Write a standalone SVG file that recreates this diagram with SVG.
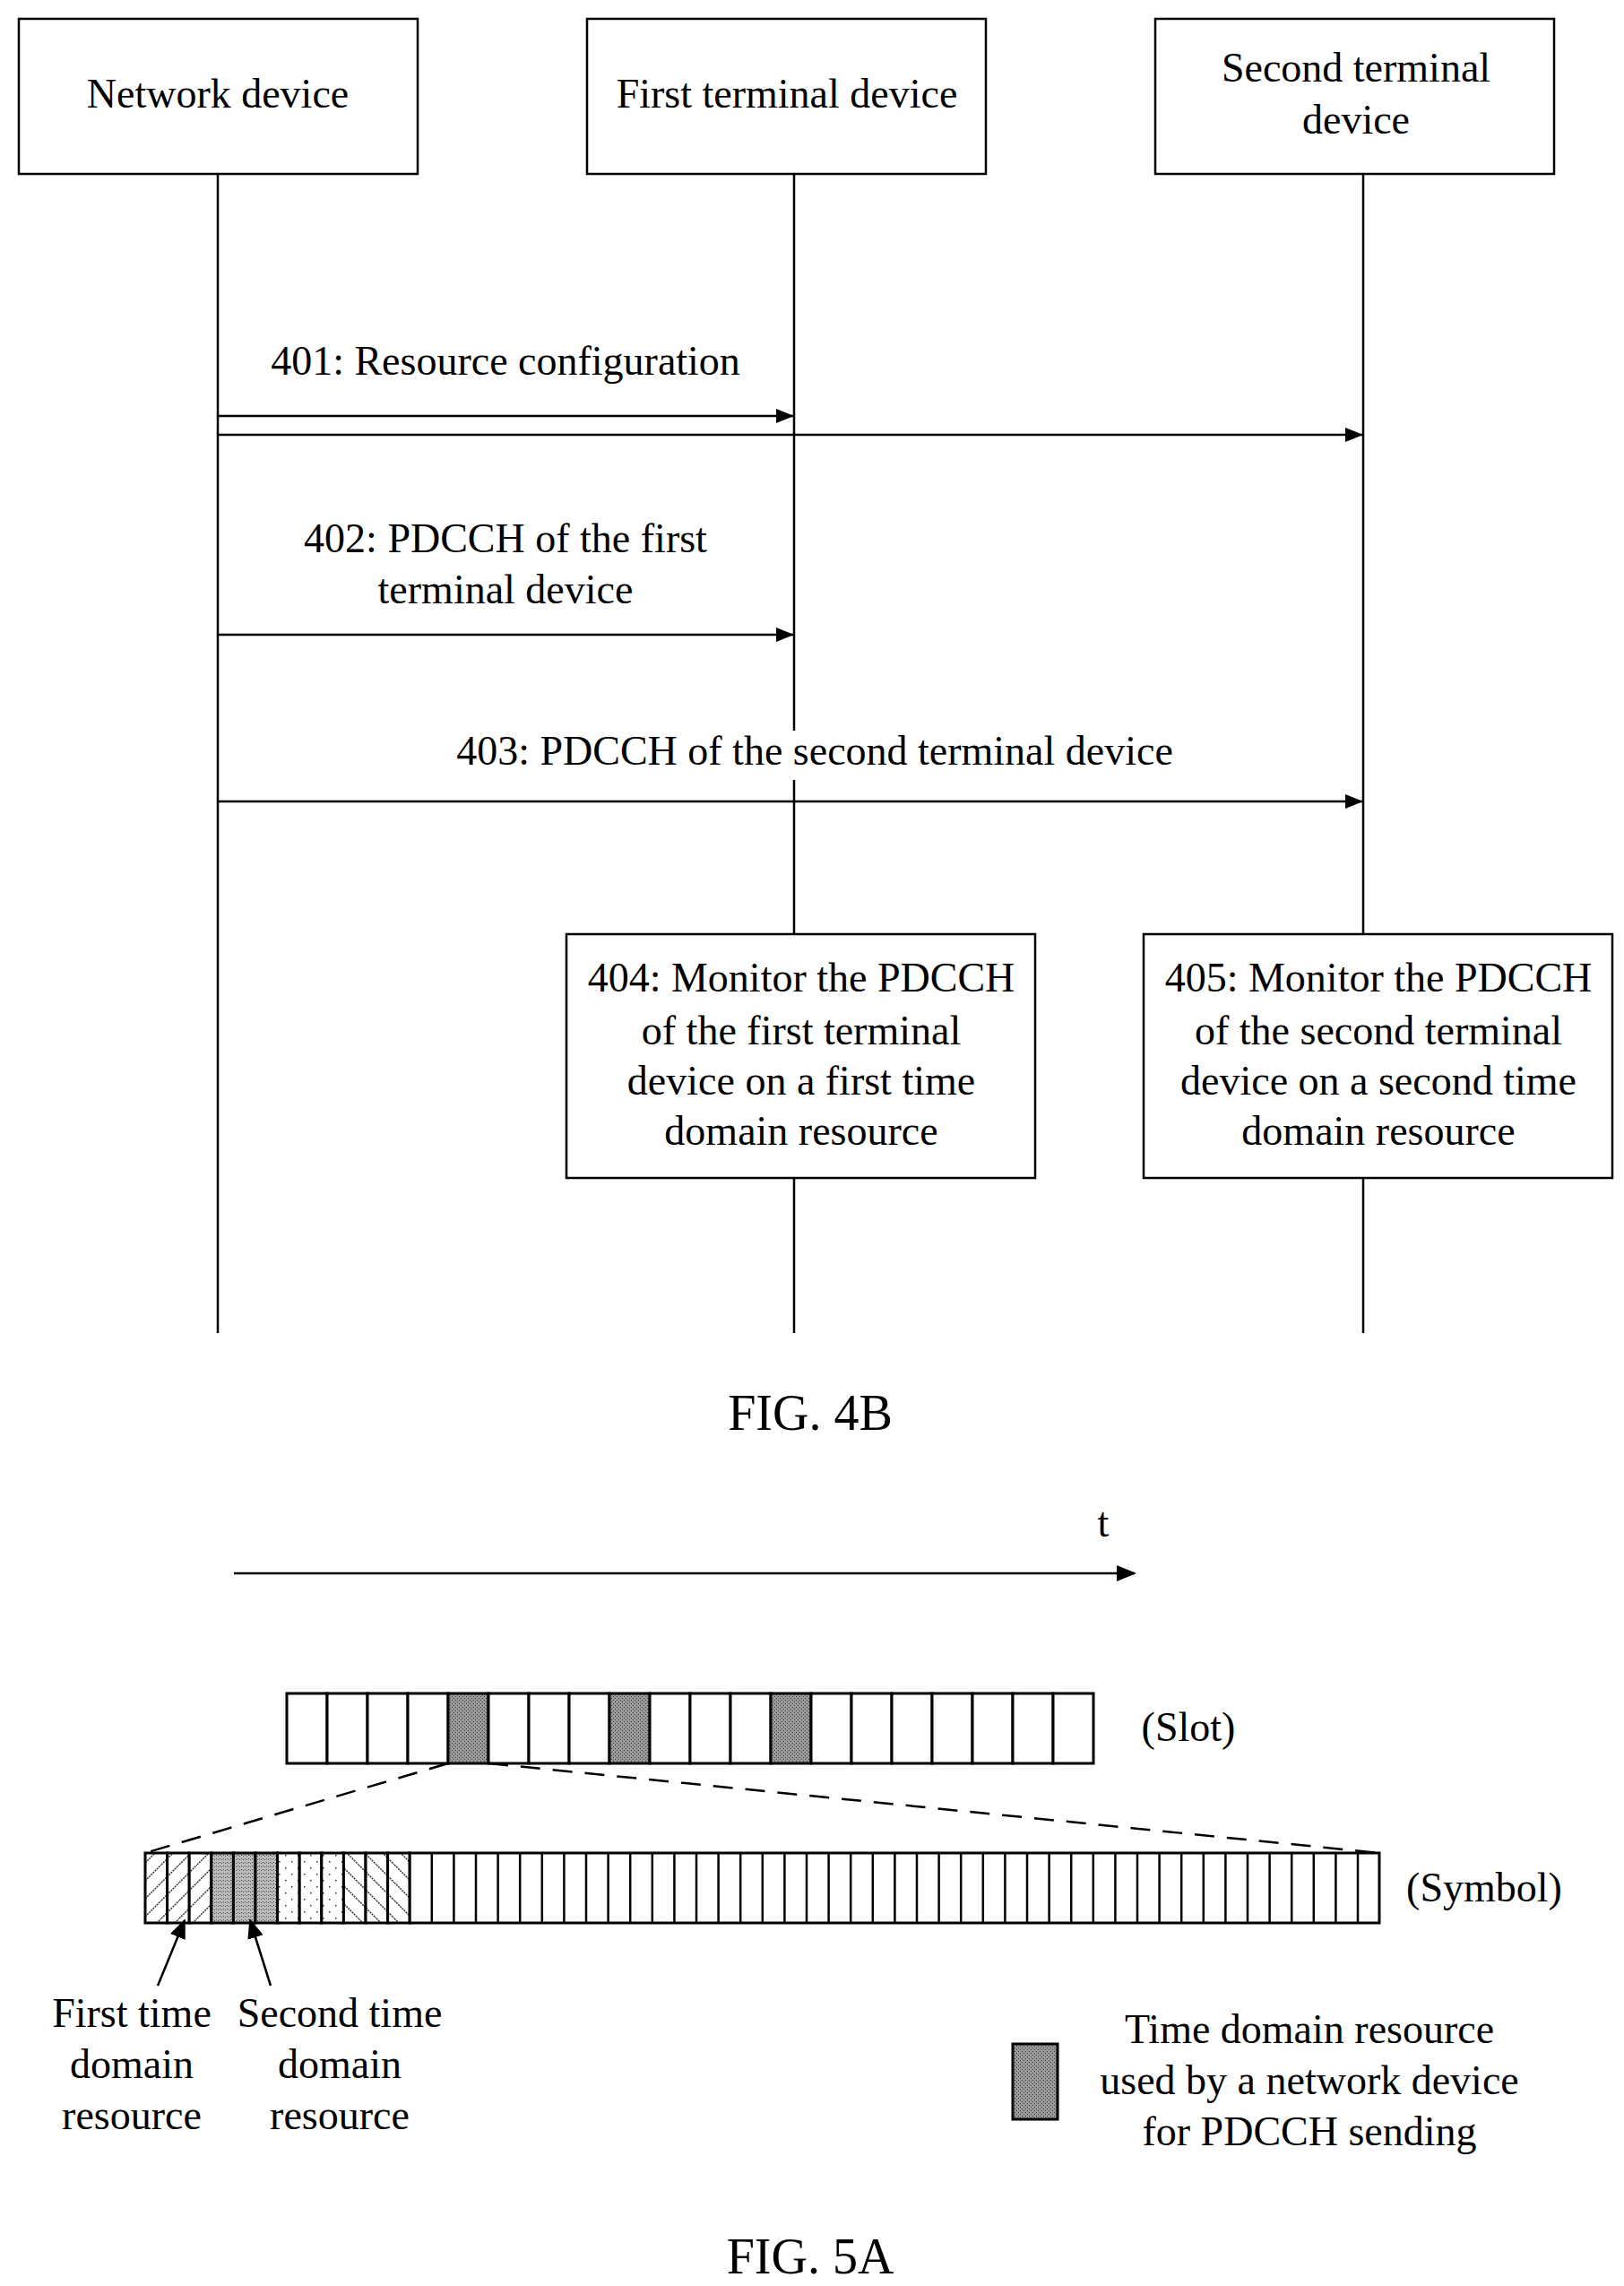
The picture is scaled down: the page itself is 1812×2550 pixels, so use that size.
<svg xmlns="http://www.w3.org/2000/svg" width="1812" height="2550" viewBox="0 0 1812 2550">
<style>
text{font-family:"Liberation Serif","Times New Roman",serif;font-size:46px;fill:#000;text-anchor:middle;dominant-baseline:middle}
.fig{font-size:56px}
.box{fill:#fff;stroke:#000;stroke-width:2.5}
.ln{stroke:#000;stroke-width:2.5;fill:none}
.cell{fill:#fff;stroke:#000;stroke-width:3}
</style>
<defs>
<marker id="ah" markerWidth="20" markerHeight="20" refX="20" refY="10" orient="auto" markerUnits="userSpaceOnUse" viewBox="0 0 20 20"><path d="M0,2L20,10L0,18z" fill="#000"/></marker>
<marker id="ah2" markerWidth="22" markerHeight="22" refX="20" refY="11" orient="auto" markerUnits="userSpaceOnUse" viewBox="0 0 22 22"><path d="M0,2L22,11L0,20z" fill="#000"/></marker>
<pattern id="dark" width="4" height="4" patternUnits="userSpaceOnUse"><rect width="4" height="4" fill="#999"/><rect x="0" y="0" width="1" height="1" fill="#333"/><rect x="2" y="2" width="1" height="1" fill="#333"/></pattern>
<pattern id="dense" width="4" height="4" patternUnits="userSpaceOnUse"><rect width="4" height="4" fill="#bbb"/><rect x="1" y="1" width="1" height="1" fill="#444"/><rect x="3" y="2" width="1" height="1" fill="#555"/></pattern>
<pattern id="sparse" width="14" height="14" patternUnits="userSpaceOnUse"><rect width="14" height="14" fill="#fff"/><rect x="3" y="4" width="1.5" height="1.5" fill="#333"/><rect x="10" y="11" width="1.5" height="1.5" fill="#333"/></pattern>
<pattern id="fwd" width="20" height="20" patternUnits="userSpaceOnUse"><rect width="20" height="20" fill="#fff"/><path d="M0,20L20,0" stroke="#333" stroke-width="1.5" stroke-dasharray="2,1"/></pattern>
<pattern id="bwd" width="20" height="20" patternUnits="userSpaceOnUse"><rect width="20" height="20" fill="#fff"/><path d="M0,0L20,20" stroke="#333" stroke-width="1.5" stroke-dasharray="2,1"/></pattern>
</defs>
<rect width="1812" height="2550" fill="#fff"/>
<g id="connectors">
<line class="ln" x1="243" y1="194" x2="243" y2="1487"/>
<line class="ln" x1="886" y1="194" x2="886" y2="1487"/>
<line class="ln" x1="1521" y1="194" x2="1521" y2="1487"/>
<line class="ln" x1="243" y1="464" x2="886" y2="464" marker-end="url(#ah)"/>
<line class="ln" x1="243" y1="485" x2="1521" y2="485" marker-end="url(#ah)"/>
<line class="ln" x1="243" y1="708" x2="886" y2="708" marker-end="url(#ah)"/>
<line class="ln" x1="243" y1="894" x2="1521" y2="894" marker-end="url(#ah)"/>
</g>
<g id="n_network"><rect class="box" x="21" y="21" width="445" height="173"/><text x="243" y="109">Network device</text></g>
<g id="n_first"><rect class="box" x="655" y="21" width="445" height="173"/><text x="878" y="109">First terminal device</text></g>
<g id="n_second"><rect class="box" x="1289" y="21" width="445" height="173"/><text x="1513" y="80">Second terminal</text><text x="1513" y="138">device</text></g>
<g id="l401"><text x="564" y="407">401: Resource configuration</text></g>
<g id="l402"><text x="564" y="605">402: PDCCH of the first</text><text x="564" y="662">terminal device</text></g>
<g id="l403"><rect x="490" y="815" width="840" height="55" fill="#fff"/><text x="909" y="842">403: PDCCH of the second terminal device</text></g>
<g id="n404"><rect class="box" x="632" y="1042" width="523" height="272"/><text x="894" y="1095">404: Monitor the PDCCH</text><text x="894" y="1154">of the first terminal</text><text x="894" y="1210">device on a first time</text><text x="894" y="1266">domain resource</text></g>
<g id="n405"><rect class="box" x="1276" y="1042" width="523" height="272"/><text x="1538" y="1095">405: Monitor the PDCCH</text><text x="1538" y="1154">of the second terminal</text><text x="1538" y="1210">device on a second time</text><text x="1538" y="1266">domain resource</text></g>
<text class="fig" x="904" y="1582">FIG. 4B</text>
<g id="fig5a">
<line class="ln" x1="261" y1="1755" x2="1266" y2="1755" marker-end="url(#ah2)"/>
<text x="1231" y="1703">t</text>
<g id="slots">
<rect class="cell" x="320" y="1889" width="45" height="78"/><rect class="cell" x="365" y="1889" width="45" height="78"/><rect class="cell" x="410" y="1889" width="45" height="78"/><rect class="cell" x="455" y="1889" width="45" height="78"/><rect class="cell" x="500" y="1889" width="45" height="78" style="fill:url(#dark)"/><rect class="cell" x="545" y="1889" width="45" height="78"/><rect class="cell" x="590" y="1889" width="45" height="78"/><rect class="cell" x="635" y="1889" width="45" height="78"/><rect class="cell" x="680" y="1889" width="45" height="78" style="fill:url(#dark)"/><rect class="cell" x="725" y="1889" width="45" height="78"/><rect class="cell" x="770" y="1889" width="45" height="78"/><rect class="cell" x="815" y="1889" width="45" height="78"/><rect class="cell" x="860" y="1889" width="45" height="78" style="fill:url(#dark)"/><rect class="cell" x="905" y="1889" width="45" height="78"/><rect class="cell" x="950" y="1889" width="45" height="78"/><rect class="cell" x="995" y="1889" width="45" height="78"/><rect class="cell" x="1040" y="1889" width="45" height="78"/><rect class="cell" x="1085" y="1889" width="45" height="78"/><rect class="cell" x="1130" y="1889" width="45" height="78"/><rect class="cell" x="1175" y="1889" width="45" height="78"/>
</g>
<text x="1326" y="1931">(Slot)</text>
<line class="ln" x1="500" y1="1967" x2="162" y2="2067" stroke-dasharray="22,14"/>
<line class="ln" x1="545" y1="1967" x2="1539" y2="2067" stroke-dasharray="22,14"/>
<g id="symbols">
<rect class="cell" x="162" y="2067" width="24.6" height="78" style="fill:url(#fwd)"/><rect class="cell" x="186.6" y="2067" width="24.6" height="78" style="fill:url(#fwd)"/><rect class="cell" x="211.2" y="2067" width="24.6" height="78" style="fill:url(#fwd)"/>
<rect class="cell" x="235.8" y="2067" width="24.6" height="78" style="fill:url(#dense)"/><rect class="cell" x="260.4" y="2067" width="24.6" height="78" style="fill:url(#dense)"/><rect class="cell" x="285" y="2067" width="24.6" height="78" style="fill:url(#dense)"/>
<rect class="cell" x="309.6" y="2067" width="24.6" height="78" style="fill:url(#sparse)"/><rect class="cell" x="334.2" y="2067" width="24.6" height="78" style="fill:url(#sparse)"/><rect class="cell" x="358.8" y="2067" width="24.6" height="78" style="fill:url(#sparse)"/>
<rect class="cell" x="383.4" y="2067" width="24.6" height="78" style="fill:url(#bwd)"/><rect class="cell" x="408" y="2067" width="24.6" height="78" style="fill:url(#bwd)"/><rect class="cell" x="432.6" y="2067" width="24.6" height="78" style="fill:url(#bwd)"/>
<rect class="cell" x="457.2" y="2067" width="1081.8" height="78"/>
<path class="ln" stroke-width="3" d="M481.8,2067v78M506.4,2067v78M531,2067v78M555.6,2067v78M580.2,2067v78M604.8,2067v78M629.4,2067v78M654,2067v78M678.6,2067v78M703.2,2067v78M727.8,2067v78M752.4,2067v78M777,2067v78M801.6,2067v78M826.2,2067v78M850.8,2067v78M875.4,2067v78M900,2067v78M924.6,2067v78M949.2,2067v78M973.8,2067v78M998.4,2067v78M1023,2067v78M1047.6,2067v78M1072.2,2067v78M1096.8,2067v78M1121.4,2067v78M1146,2067v78M1170.6,2067v78M1195.2,2067v78M1219.8,2067v78M1244.4,2067v78M1269,2067v78M1293.6,2067v78M1318.2,2067v78M1342.8,2067v78M1367.4,2067v78M1392,2067v78M1416.6,2067v78M1441.2,2067v78M1465.8,2067v78M1490.4,2067v78M1515,2067v78"/>
</g>
<text x="1656" y="2110">(Symbol)</text>
<line class="ln" x1="176" y1="2215" x2="206" y2="2142" stroke-width="3" marker-end="url(#ah2)"/>
<line class="ln" x1="302" y1="2215" x2="279" y2="2142" stroke-width="3" marker-end="url(#ah2)"/>
<text x="147" y="2250">First time</text><text x="147" y="2307">domain</text><text x="147" y="2364">resource</text>
<text x="379" y="2250">Second time</text><text x="379" y="2307">domain</text><text x="379" y="2364">resource</text>
<rect x="1130" y="2280" width="50" height="84" stroke="#000" stroke-width="3" style="fill:url(#dark)"/>
<text x="1461" y="2268">Time domain resource</text><text x="1461" y="2325">used by a network device</text><text x="1461" y="2382">for PDCCH sending</text>
<text class="fig" x="904" y="2523">FIG. 5A</text>
</g>
</svg>
